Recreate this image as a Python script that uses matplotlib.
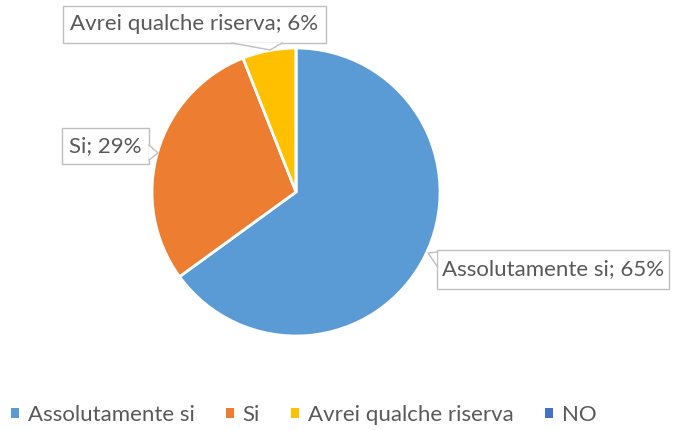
import matplotlib
matplotlib.use("Agg")
import matplotlib.pyplot as plt
from matplotlib.patches import Polygon

categories = ["Assolutamente si", "Si", "Avrei qualche riserva", "NO"]
values = [65, 29, 6, 0]
colors = ["#5B9BD5", "#ED7D31", "#FFC000", "#4472C4"]

plt.rcParams['font.family'] = ['Lato', 'DejaVu Sans']
TXT = "#595959"
FS = 16

fig = plt.figure(figsize=(6.75, 4.3), dpi=100)
ax = fig.add_axes([0, 0, 1, 1])
H = 430
wedges, _ = ax.pie(values, colors=colors, startangle=90, counterclock=False,
                   center=(296, H - 192), radius=144,
                   wedgeprops=dict(edgecolor="white", linewidth=2))
ax.set_xlim(0, 675)
ax.set_ylim(0, H)
ax.set_aspect("equal")
ax.axis("off")


def callout(text, box, ptr):
    x0, y0, x1, y1 = box  # image coordinates
    ax.text((x0 + x1) / 2, H - (y0 + y1) / 2, text, ha="center", va="center",
            fontsize=FS, color=TXT, zorder=5)
    rect = Polygon([(x0, H - y0), (x1, H - y0), (x1, H - y1), (x0, H - y1)],
                   closed=True, fc="white", ec="#BFBFBF", lw=1, zorder=3)
    ax.add_patch(rect)
    (bx0, by0), (ax_, ay_), (bx1, by1) = ptr
    tri = Polygon([(bx0, H - by0), (ax_, H - ay_), (bx1, H - by1)], closed=True,
                  fc="white", ec="none", zorder=4)
    ax.add_patch(tri)
    ax.plot([bx0, ax_, bx1], [H - by0, H - ay_, H - by1], color="#BFBFBF",
            lw=1, zorder=4)


callout("Avrei qualche riserva; " + f"{values[2]}%", (63, 6, 326, 43),
        [(232, 43), (270, 50), (282, 43)])
callout("Si; " + f"{values[1]}%", (62, 128, 149, 164),
        [(149, 145), (158, 153), (149, 160)])
callout("Assolutamente si; " + f"{values[0]}%", (437, 250, 669, 289),
        [(437, 252), (428, 253), (437, 266)])

px = FS * 100 / 72
leg = ax.legend(wedges, categories, loc="center", bbox_to_anchor=(303.5 / 675, 1 - 415 / H),
                ncol=4, frameon=False, fontsize=FS, handlelength=8 / px, handleheight=8 / px,
                handletextpad=9 / px, columnspacing=31 / px, labelcolor=TXT)
for h in leg.legend_handles:
    h.set_edgecolor("none")

fig.savefig("out.png", dpi=100)
